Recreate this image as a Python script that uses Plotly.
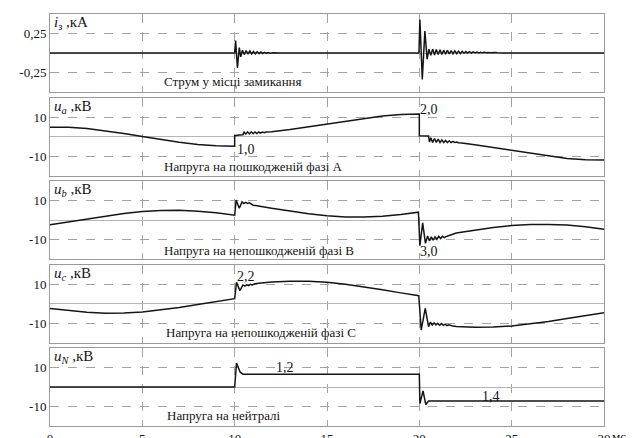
import plotly.graph_objects as go
from plotly.subplots import make_subplots

# Fault-current and voltage waveforms, time in ms
i_fault = [
    (0, 0), (10.0, 0), (10.05, 0.16), (10.15, -0.19), (10.25, 0.07), (10.33, -0.05),
    (10.42, 0.035), (10.52, -0.02), (10.62, 0.03), (10.72, -0.015), (10.82, 0.025),
    (10.92, -0.012), (11.02, 0.02), (11.12, -0.01), (11.22, 0.016), (11.32, -0.008),
    (11.42, 0.012), (11.52, -0.006), (11.62, 0.009), (11.72, -0.004), (11.82, 0.006),
    (11.92, -0.003), (12.1, 0.003), (12.4, 0), (19.98, 0),
    (20.03, 0.43), (20.16, -0.34), (20.30, 0.28), (20.42, -0.08), (20.52, 0.05),
    (20.62, -0.03), (20.72, 0.05), (20.82, -0.025), (20.92, 0.045), (21.02, -0.02),
    (21.12, 0.04), (21.22, -0.018), (21.32, 0.036), (21.42, -0.015), (21.52, 0.033),
    (21.62, -0.012), (21.72, 0.03), (21.82, -0.01), (21.92, 0.027), (22.02, -0.008),
    (22.12, 0.024), (22.22, -0.006), (22.32, 0.021), (22.42, -0.004), (22.52, 0.018),
    (22.62, -0.002), (22.72, 0.016), (22.82, 0.0), (22.92, 0.014), (23.02, 0.001),
    (23.12, 0.012), (23.22, 0.002), (23.32, 0.01), (23.42, 0.002), (23.52, 0.008),
    (23.62, 0.002), (23.72, 0.007), (23.82, 0.002), (23.92, 0.006), (24.02, 0.002),
    (24.12, 0.005), (24.22, 0.002), (24.32, 0.004), (24.42, 0.002), (24.6, 0.0), (30, 0),
]

u_a = [
    (0, 4.8), (1, 4.7), (2, 4.05), (3, 2.95), (4, 1.55), (5, 0.0), (6, -1.55),
    (7, -2.95), (8, -4.05), (9, -4.75), (10, -5.0),
    (10.0, 0.4), (10.25, 0.8), (10.45, 0.9), (10.5, 2.4), (10.6, 1.2), (10.7, 2.4),
    (10.8, 1.3), (10.9, 2.4), (11.0, 1.4), (11.1, 2.3), (11.2, 1.5), (11.3, 2.3),
    (11.4, 1.7), (11.5, 2.3), (11.6, 1.9), (11.7, 2.3), (11.85, 2.2), (12, 2.45),
    (13, 3.55), (14, 4.95), (15, 6.5), (16, 8.05), (17, 9.45), (18, 10.55),
    (19, 11.25), (20, 11.5),
    (20.0, 0.4), (20.5, 0.3), (20.55, -2.8), (20.62, -0.6), (20.72, -3.0), (20.82, -1.0),
    (20.92, -3.0), (21.02, -1.4), (21.12, -3.1), (21.22, -1.7), (21.32, -3.1),
    (21.42, -2.0), (21.52, -3.1), (21.62, -2.3), (21.72, -3.1), (21.82, -2.5),
    (21.92, -3.1), (22.02, -2.8), (22.12, -3.2), (22.3, -3.3), (23, -4.25),
    (24, -5.65), (25, -7.2), (26, -8.75), (27, -10.15), (28, -11.25), (29, -11.9),
    (30, -12.0),
]

u_b = [
    (0, -2.5), (1, -1.05), (2, 0.5), (3, 2.05), (4, 3.35), (5, 4.35), (6, 4.9),
    (7, 5.0), (8, 4.55), (9, 3.7), (10, 2.5),
    (10.08, 10.2), (10.25, 6.0), (10.4, 9.3), (10.5, 8.4), (10.6, 9.0), (10.7, 8.5),
    (10.8, 8.8), (10.9, 8.2), (11, 7.6), (12, 6.0), (13, 4.45), (14, 3.15),
    (15, 2.15), (16, 1.6), (17, 1.55), (18, 1.95), (19, 2.8), (19.95, 4.0),
    (20.03, -13.2), (20.18, -1.5), (20.33, -12.0), (20.45, -8.2), (20.55, -10.8),
    (20.65, -8.6), (20.75, -10.3), (20.85, -8.6), (20.95, -9.9), (21.05, -8.4),
    (21.15, -9.5), (21.25, -8.3), (21.35, -9.0), (21.5, -8.3), (22, -6.7),
    (23, -5.15), (24, -3.85), (25, -2.85), (26, -2.3), (27, -2.25), (28, -2.6),
    (29, -3.5), (30, -4.7),
]

u_c = [
    (0, -2.5), (1, -3.7), (2, -4.55), (3, -4.95), (4, -4.9), (5, -4.35), (6, -3.35),
    (7, -2.05), (8, -0.5), (9, 1.05), (10, 2.5),
    (10.1, 10.9), (10.28, 6.6), (10.45, 9.5), (10.55, 8.9), (10.65, 9.6), (10.75, 9.2),
    (10.85, 9.8), (10.95, 9.5), (11.1, 10.1), (11.3, 10.4), (12, 11.05), (13, 11.45),
    (14, 11.4), (15, 10.85), (16, 9.85), (17, 8.55), (18, 7.0), (19, 5.45),
    (19.97, 4.0),
    (20.1, -13.6), (20.32, -2.5), (20.5, -11.9), (20.6, -9.6), (20.7, -11.0),
    (20.8, -9.9), (20.9, -11.0), (21.0, -10.1), (21.1, -11.1), (21.2, -10.3),
    (21.3, -11.2), (21.4, -10.6), (21.5, -11.3), (21.6, -10.9), (21.75, -11.4),
    (22, -11.75), (23, -12.15), (24, -12.1), (25, -11.55), (26, -10.55), (27, -9.25),
    (28, -7.7), (29, -6.15), (30, -4.7),
]

u_n = [
    (0, 0), (10, 0), (10.1, 12.3), (10.3, 7.6), (10.45, 6.6), (20, 6.5),
    (20.03, -8.5), (20.2, -2.0), (20.35, -9.0), (20.5, -7.2), (30, -7.2),
]

series = [i_fault, u_a, u_b, u_c, u_n]

panel_titles = [
    "<i>i</i><sub>з</sub> ,кА",
    "<i>u<sub>a</sub></i> ,кВ",
    "<i>u<sub>b</sub></i> ,кВ",
    "<i>u<sub>c</sub></i> ,кВ",
    "<i>u<sub>N</sub></i> ,кВ",
]
panel_captions = [
    (9.9, -0.37, "Струм у місці замикання"),
    (11.0, -15.2, "Напруга на пошкодженій фазі А"),
    (11.3, -15.6, "Напруга на непошкодженій фазі В"),
    (11.4, -15.1, "Напруга на непошкодженій фазі С"),
    (9.4, -14.5, "Напруга на нейтралі"),
]
# overvoltage ratios: (panel, t, y, text)
ratio_labels = [
    (2, 10.6, -6.6, "1,0"),
    (2, 20.5, 13.6, "2,0"),
    (3, 20.5, -16.0, "3,0"),
    (4, 10.6, 13.6, "2,2"),
    (5, 12.7, 10.1, "1,2"),
    (5, 23.9, -4.8, "1,4"),
]

x_ticks = [0, 5, 10, 15, 20, 25, 30]
y_ticks_current = [-0.25, 0.25]
y_ticktext_current = ["-0,25", "0,25"]
y_ticks_voltage = [-10, 10]
y_ticktext_voltage = ["-10", "10"]

SERIF = "Liberation Serif"
INK = "#151515"
GRID = "#a3a3a3"

fig = make_subplots(rows=5, cols=1, shared_xaxes=True, vertical_spacing=5.5 / 412)

for k, pts in enumerate(series, start=1):
    t = [p[0] for p in pts]
    v = [p[1] for p in pts]
    fig.add_trace(
        go.Scatter(x=t, y=v, mode="lines", line=dict(color=INK, width=1.5),
                   showlegend=False, hoverinfo="skip"),
        row=k, col=1,
    )

for k in range(1, 6):
    fig.update_xaxes(
        range=[0, 30], tickvals=x_ticks, showgrid=True, gridcolor=GRID,
        griddash="dash", gridwidth=1, showline=True, mirror=True,
        linecolor="#9a9a9a", linewidth=1, zeroline=False, ticks="",
        showticklabels=(k == 5), automargin=False,
        tickfont=dict(family=SERIF, size=13, color=INK), row=k, col=1,
    )
    if k == 1:
        fig.update_yaxes(range=[-0.5, 0.5], tickvals=y_ticks_current,
                         ticktext=y_ticktext_current, row=k, col=1)
    else:
        fig.update_yaxes(range=[-20, 20], tickvals=y_ticks_voltage,
                         ticktext=y_ticktext_voltage, row=k, col=1)
    fig.update_yaxes(
        showgrid=True, gridcolor=GRID, griddash="dash", gridwidth=1,
        zeroline=True, zerolinecolor="#b5b5b5", zerolinewidth=1,
        showline=True, mirror=True, linecolor="#9a9a9a", linewidth=1,
        ticks="", automargin=False,
        tickfont=dict(family=SERIF, size=13, color=INK), row=k, col=1,
    )

annotations = []
for k, title in enumerate(panel_titles, start=1):
    sfx = "" if k == 1 else str(k)
    annotations.append(dict(
        text=title, xref=f"x{sfx} domain", yref=f"y{sfx} domain", x=0.004, y=1.02,
        xanchor="left", yanchor="top", showarrow=False,
        font=dict(family=SERIF, size=15, color=INK),
    ))
for k, (tx, ty, text) in enumerate(panel_captions, start=1):
    sfx = "" if k == 1 else str(k)
    annotations.append(dict(
        text=text, xref=f"x{sfx}", yref=f"y{sfx}", x=tx, y=ty, showarrow=False,
        font=dict(family=SERIF, size=13, color=INK),
    ))
for k, tx, ty, text in ratio_labels:
    sfx = "" if k == 1 else str(k)
    annotations.append(dict(
        text=text, xref=f"x{sfx}", yref=f"y{sfx}", x=tx, y=ty, showarrow=False,
        font=dict(family=SERIF, size=14, color=INK),
    ))
annotations.append(dict(
    text="мс", xref="x5", yref="paper", x=30, y=0, xshift=6, yshift=-1,
    xanchor="left", yanchor="top", showarrow=False,
    font=dict(family=SERIF, size=13, color=INK),
))

fig.update_layout(
    width=634, height=438,
    margin=dict(l=50, r=30, t=14, b=12),
    paper_bgcolor="white", plot_bgcolor="white",
    font=dict(family=SERIF, size=12, color=INK),
    annotations=annotations,
)

fig.write_html("out.html")
